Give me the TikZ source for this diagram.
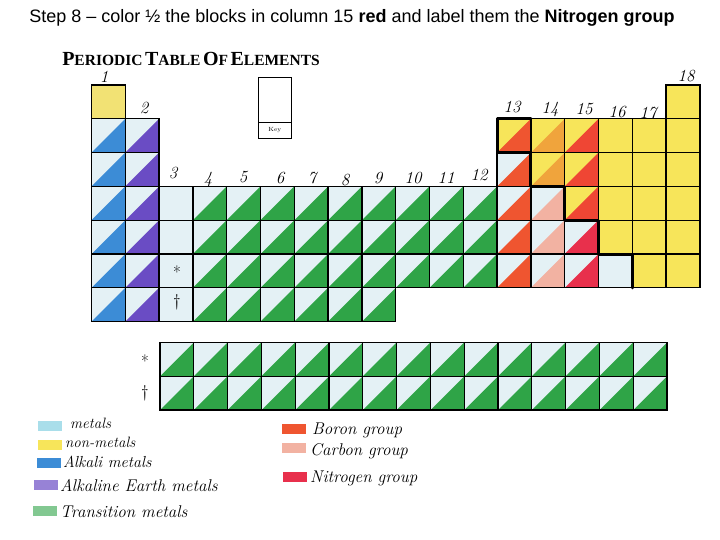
\documentclass[tikz,border=0pt]{standalone}
\usepackage{fontspec}
\newfontfamily\capfont{Liberation Sans}
\newfontfamily\headfont{Liberation Serif}
\usetikzlibrary{shapes.misc}

\definecolor{metalbg}{HTML}{E4F1F5}
\definecolor{metalkey}{HTML}{A9DEEA}
\definecolor{nonmetal}{HTML}{F7E55A}
\definecolor{hydrogen}{HTML}{F2E274}
\definecolor{alkali}{HTML}{3C8CD6}
\definecolor{earth}{HTML}{6A4CC4}
\definecolor{transition}{HTML}{2FA447}
\definecolor{boron}{HTML}{EF5530}
\definecolor{carbon}{HTML}{F2B2A2}
\definecolor{carbontop}{HTML}{F0A43C}
\definecolor{nitrogen}{HTML}{E8304C}
\definecolor{nitrogentop}{HTML}{EF4634}

\tikzset{
  cellline/.style={black, line width=1.3pt},
  colnum/.style={font=\fontsize{17}{17}\selectfont\itshape, inner sep=1pt},
  hand/.style={anchor=west, inner sep=0pt},
  swatch/.style={minimum width=24pt, minimum height=10pt, inner sep=0pt},
  mark label/.style={font=\fontsize{17}{17}\selectfont},
}

% cell: column, row, background, triangle
\newcommand{\elcell}[4]{%
  \fill[#3] (#1-1,#2-1) rectangle (#1,#2);
  \fill[#4] (#1-1,#2) -- (#1,#2) -- (#1,#2-1) -- cycle;
  \draw[cellline] (#1-1,#2-1) rectangle (#1,#2);}
\newcommand{\plaincell}[3]{%
  \fill[#3] (#1-1,#2-1) rectangle (#1,#2);
  \draw[cellline] (#1-1,#2-1) rectangle (#1,#2);}
\newcommand{\bigsc}[2]{{\fontsize{20}{20}\selectfont #1}{\fontsize{15.5}{15.5}\selectfont #2}}
\newcommand{\handsize}[1]{\fontsize{#1}{#1}\selectfont\itshape}

\begin{document}
\begin{tikzpicture}[x=1pt, y=-1pt]
   \useasboundingbox (0,0) rectangle (720,540);
   \node[font=\capfont\fontsize{18}{18}\selectfont] (step) at (352,18)
     {Step 8 – color ½ the blocks in column 15 \textbf{red} and label them the \textbf{Nitrogen group}};
   \node[font=\headfont\bfseries, inner sep=1pt] (title) at (191,59)
     {\bigsc{P}{ERIODIC} \bigsc{T}{ABLE} \bigsc{O}{F} \bigsc{E}{LEMENTS}};
   % key box
   \draw[line width=0.8pt] (258,77) rectangle (291.5,138.7);
   \draw[line width=0.8pt] (258,122) -- (291.5,122);
   \node[font=\fontsize{6}{6}\selectfont] (key) at (274.8,130.4) {Key};

   % main table
   \begin{scope}[shift={(91.5,85)}, x=33.8pt, y=-33.8pt]
   \plaincell{1}{1}{hydrogen}
   \foreach \r in {2,...,7} {
     \elcell{1}{\r}{metalbg}{alkali}
     \elcell{2}{\r}{metalbg}{earth}
   }
   \foreach \r in {4,...,7} \plaincell{3}{\r}{metalbg};
   \foreach \c in {4,...,9}
     \foreach \r in {4,...,7} \elcell{\c}{\r}{metalbg}{transition};
   \foreach \c in {10,11,12}
     \foreach \r in {4,5,6} \elcell{\c}{\r}{metalbg}{transition};
   \elcell{13}{2}{nonmetal}{boron}
   \foreach \r in {3,...,6} \elcell{13}{\r}{metalbg}{boron};
   \foreach \r in {2,3} \elcell{14}{\r}{nonmetal}{carbontop};
   \foreach \r in {4,5,6} \elcell{14}{\r}{metalbg}{carbon};
   \foreach \r in {2,3,4} \elcell{15}{\r}{nonmetal}{nitrogentop};
   \foreach \r in {5,6} \elcell{15}{\r}{metalbg}{nitrogen};
   \foreach \r in {2,...,5} \plaincell{16}{\r}{nonmetal};
   \plaincell{16}{6}{metalbg}
   \foreach \r in {2,...,6} \plaincell{17}{\r}{nonmetal};
   \foreach \r in {1,...,6} \plaincell{18}{\r}{nonmetal};
   % metal / non-metal staircase
   \draw[line width=3pt, line cap=round, line join=round]
     (13,1) -- (12,1) -- (12,2) -- (13,2) -- (13,3) -- (14,3) -- (14,4)
     -- (15,4) -- (15,5) -- (16,5) -- (16,6);
   \end{scope}

   % lanthanides and actinides
   \begin{scope}[shift={(160,342.5)}, x=33.8pt, y=-33.8pt]
   \foreach \c in {1,...,15}
     \foreach \r in {1,2} \elcell{\c}{\r}{metalbg}{transition};
   \end{scope}

   \node[mark label] (lanstar) at (177,272) {*};
   \node[mark label] (actdag) at (177,302) {\textdagger};
   \node[mark label] (rowstar) at (145,361) {*};
   \node[mark label] (rowdag) at (145,393) {\textdagger};

   % group numbers
   \foreach \n/\x/\y in {1/104/77, 2/144/108, 3/173/173, 4/208/179, 5/243/177,
       6/280/178, 7/312/178, 8/345/180, 9/378/178, 10/413/178, 11/446/178,
       12/479/175, 13/512/107, 14/550/109, 15/584/109, 16/617/112,
       17/648/113, 18/686/76}
     \node[colnum] (g\n) at (\x,\y) {\n};

   % legend
   \node[swatch, fill=metalkey] (kmetal) at (50,426) {};
   \node[swatch, fill=nonmetal] (knonmetal) at (50,445) {};
   \node[swatch, fill=alkali] (kalkali) at (49,463) {};
   \node[swatch, fill=earth!70] (kearth) at (46,485) {};
   \node[swatch, fill=transition!60] (ktrans) at (45,511) {};
   \node[hand, font=\handsize{15}] (tmetal) at (70,423) {metals};
   \node[hand, font=\handsize{15}] (tnonmetal) at (65,442) {non-metals};
   \node[hand, font=\handsize{16}] (talkali) at (63,462) {Alkali metals};
   \node[hand, font=\handsize{17}] (tearth) at (60,486) {Alkaline Earth metals};
   \node[hand, font=\handsize{17}] (ttrans) at (60,512) {Transition metals};
   \node[swatch, fill=boron] (kboron) at (294,429) {};
   \node[swatch, fill=carbon] (kcarbon) at (294,448) {};
   \node[swatch, fill=nitrogen] (knitrogen) at (295,477) {};
   \node[hand, font=\handsize{17}] (tboron) at (312,430) {Boron group};
   \node[hand, font=\handsize{17}] (tcarbon) at (310,451) {Carbon group};
   \node[hand, font=\handsize{17}] (tnitrogen) at (310,478) {Nitrogen group};
\end{tikzpicture}
\end{document}
